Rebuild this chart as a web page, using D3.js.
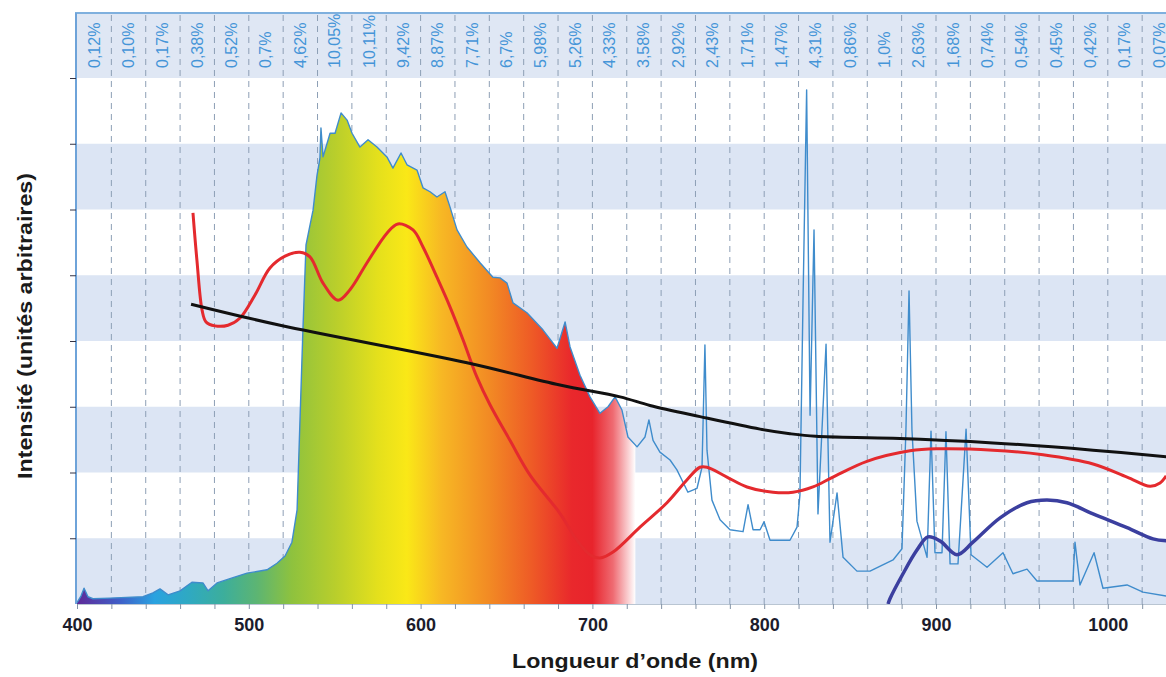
<!DOCTYPE html>
<html>
<head>
<meta charset="utf-8">
<script src="https://cdn.jsdelivr.net/npm/d3@7"></script>
<style>
  html, body { margin: 0; padding: 0; background: #fff; }
  svg { display: block; font-family: Arial, "Liberation Sans", sans-serif; }
</style>
</head>
<body>
<svg id="chart" width="1166" height="677"></svg>
<script>
// ---------- DATA ----------
const binLabels = ["0,12%","0,10%","0,17%","0,38%","0,52%","0,7%","4,62%","10,05%","10,11%","9,42%","8,87%","7,71%","6,7%","5,98%","5,26%","4,33%","3,58%","2,92%","2,43%","1,71%","1,47%","4,31%","0,86%","1,0%","2,63%","1,68%","0,74%","0,54%","0,45%","0,42%","0,17%","0,07%"];
const binStarts = [400,420,440,460,480,500,520,540,560,580,600,620,640,660,680,700,720,740,760,780,800,820,840,860,880,900,920,940,960,980,1000,1020];
const xTickLabels = [400, 500, 600, 700, 800, 900, 1000];

// measured lamp spectrum (wavelength nm, intensity a.u.)
const spectrumWl = [400,402.3,404.1,406.4,409.3,419.2,438.4,444.2,448.3,453.0,460.0,466.9,473.3,476.3,481.5,490.8,499.0,510.6,516.4,521.1,525.1,528.1,529.8,531.5,533.3,535.6,537.4,539.7,541.4,542.0,543.2,547.3,550.2,553.7,557.2,560.1,564.7,569.4,574.6,580.4,583.9,588.6,592.1,597.9,601.4,605.5,609.5,614.2,617.1,621.2,627.0,634.6,642.1,646.2,650.3,653.8,661.9,671.2,679.4,684.1,687.0,692.8,698.6,704.4,709.1,713.2,717.2,720.7,726.0,730.6,732.9,735.3,739.3,745.2,749.2,755.6,760.9,763.8,765.5,766.7,769.6,774.3,780.1,787.7,790.6,793.5,797.6,799.9,803.4,815.0,819.1,820.8,822.6,824.7,826.7,829.0,831.3,836.0,838.3,842.4,845.9,854.0,861.6,875.0,880.2,882.5,884.3,886.0,888.9,894.8,897.1,899.4,903.5,905.8,908.2,912.8,917.5,920.4,929.7,939.0,944.8,953.0,958.8,979.7,980.9,983.8,992.0,997.2,1011.2,1020.5,1034];
const spectrumI  = [0.02,0.12,0.24,0.11,0.08,0.09,0.11,0.17,0.23,0.14,0.20,0.33,0.32,0.20,0.32,0.40,0.47,0.52,0.62,0.73,0.94,1.43,2.80,4.17,5.46,5.76,5.99,6.52,6.78,7.24,6.80,7.16,7.16,7.47,7.36,7.16,6.95,7.06,6.95,6.80,6.63,6.86,6.68,6.60,6.33,6.27,6.19,6.27,6.04,5.69,5.43,5.19,4.97,4.96,4.88,4.58,4.43,4.17,3.89,4.29,3.91,3.48,3.15,2.90,3.00,3.15,2.95,2.54,2.39,2.54,2.80,2.49,2.31,2.19,2.04,1.70,1.76,2.08,3.94,2.34,1.58,1.28,1.13,1.10,1.51,1.13,1.13,1.25,0.97,0.97,1.17,1.66,4.62,7.82,2.87,5.69,1.37,3.95,0.94,1.69,0.71,0.50,0.50,0.67,0.84,2.65,4.76,2.65,1.26,0.71,2.63,0.78,0.78,2.62,0.61,0.61,2.66,0.75,0.56,0.78,0.46,0.53,0.35,0.35,0.94,0.29,0.78,0.24,0.29,0.18,0.12];

// red reference curve
const redWl = [467.5,469.8,472.8,475.1,480.3,487.9,494.9,503.6,512.3,521.1,529.8,535.6,543.2,551.9,558.9,568.8,580.4,586.8,595.6,601.4,609.5,617.1,624.7,632.8,640.4,652.0,663.7,681.1,691.0,698.6,704.4,712.0,727.7,743.4,755.1,762.6,766.7,778.3,790.0,805.1,816.8,828.4,840.0,859.8,884.9,900.6,933.2,962.3,991.4,1011.2,1024.6,1030.4,1034];
const redI  = [5.95,5.23,4.47,4.29,4.23,4.24,4.35,4.70,5.11,5.29,5.35,5.28,4.88,4.62,4.78,5.19,5.64,5.78,5.69,5.43,4.97,4.52,4.02,3.45,3.03,2.49,1.96,1.38,0.97,0.75,0.70,0.79,1.17,1.54,1.89,2.08,2.08,1.93,1.78,1.70,1.70,1.78,1.93,2.17,2.33,2.36,2.34,2.27,2.13,1.93,1.79,1.84,1.95];

// black reference curve
const blackWl = [466.4,518.2,627.0,681.1,716.1,733.5,762.6,797.6,815.0,830.0,875.0,933.2,991.4,1034];
const blackI  = [4.56,4.24,3.67,3.33,3.15,3.02,2.85,2.66,2.59,2.55,2.52,2.45,2.34,2.24];

// navy reference curve
const navyWl = [872.1,873.2,880.8,888.9,895.3,902.3,912.2,921.5,937.3,953.0,964.6,976.2,991.4,1011.2,1026.3,1034];
const navyI  = [0.00,0.08,0.46,0.82,1.02,0.96,0.75,0.94,1.31,1.54,1.58,1.54,1.37,1.16,0.99,0.96];

// ---------- LAYOUT ----------
const svg = d3.select("#chart");
const W = 1166, H = 677;
const x = d3.scaleLinear().domain([400, 1040]).range([77, 77 + 640 * 1.718]);
const y = d3.scaleLinear().domain([0, 8]).range([604, 78]);
const headerTop = 13;
const bandColor = "#dce5f4";

const zip = (a, b) => a.map((v, i) => [v, b[i]]);

// header band
svg.append("rect").attr("x", 76).attr("y", headerTop).attr("width", W - 76).attr("height", y(8) - headerTop)
  .attr("fill", "#dfe7f4");

// alternating bands
[0, 2, 4, 6].forEach(k => {
  svg.append("rect").attr("x", x(400)).attr("y", y(k + 1)).attr("width", W - x(400)).attr("height", y(k) - y(k + 1))
    .attr("fill", bandColor);
});

// dashed grid lines at bin edges
svg.append("g").selectAll("line").data(binStarts.slice(1).concat([1040])).join("line")
  .attr("x1", d => x(d)).attr("x2", d => x(d))
  .attr("y1", headerTop + 2).attr("y2", y(0))
  .attr("stroke", "#8d9fb5").attr("stroke-width", 1).attr("stroke-dasharray", "6,5");

// spectral gradient fill
const defs = svg.append("defs");
const grad = defs.append("linearGradient").attr("id", "spec").attr("gradientUnits", "userSpaceOnUse")
  .attr("x1", x(400)).attr("x2", x(725)).attr("y1", 0).attr("y2", 0);
const stops = [[400,"#5e2a98"],[425,"#3f5fc8"],[445,"#2aa2e0"],[465,"#2fa9c2"],[485,"#3cae9c"],[505,"#5db572"],[525,"#8ec23e"],[550,"#b8ce2c"],[575,"#e4e01c"],[592,"#fae817"],[612,"#f7b824"],[640,"#f28a24"],[665,"#ee5a26"],[688,"#e9282c"],[700,"#e8242c"],[712,"#ef6b72"],[725,"#ffffff"]];
stops.forEach(([wl, c]) => grad.append("stop").attr("offset", (wl - 400) / 325).attr("stop-color", c));
defs.append("clipPath").attr("id", "clipFill").append("rect")
  .attr("x", x(400)).attr("y", 0).attr("width", x(725) - x(400)).attr("height", H);

const specData = zip(spectrumWl, spectrumI);
const area = d3.area().x(d => x(d[0])).y0(y(0)).y1(d => y(d[1]));
svg.append("path").datum(specData).attr("d", area).attr("fill", "url(#spec)").attr("clip-path", "url(#clipFill)");

// spectrum line
const line = d3.line().x(d => x(d[0])).y(d => y(d[1]));
svg.append("path").datum(specData).attr("d", line).attr("fill", "none")
  .attr("stroke", "#3f8ccc").attr("stroke-width", 1.4).attr("stroke-linejoin", "round");

// smooth reference curves
const smooth = d3.line().x(d => x(d[0])).y(d => y(d[1])).curve(d3.curveCatmullRom.alpha(0.5));
svg.append("path").datum(zip(redWl, redI)).attr("d", smooth).attr("fill", "none")
  .attr("stroke", "#e42a2e").attr("stroke-width", 3);
svg.append("path").datum(zip(blackWl, blackI)).attr("d", smooth).attr("fill", "none")
  .attr("stroke", "#111").attr("stroke-width", 3);
svg.append("path").datum(zip(navyWl, navyI)).attr("d", smooth).attr("fill", "none")
  .attr("stroke", "#3b3f9f").attr("stroke-width", 3.5);

// header top line and left axis
svg.append("line").attr("x1", 75).attr("x2", W).attr("y1", headerTop).attr("y2", headerTop)
  .attr("stroke", "#7fb0de").attr("stroke-width", 2);
svg.append("line").attr("x1", 76).attr("x2", 76).attr("y1", headerTop).attr("y2", y(0))
  .attr("stroke", "#6ea3d9").attr("stroke-width", 2);

// y axis ticks (no labels)
const yAxis = d3.axisLeft(y).tickValues([1,2,3,4,5,6,7,8]).tickSize(6).tickFormat("");
const gy = svg.append("g").attr("transform", "translate(76,0)").call(yAxis);
gy.select(".domain").remove();
gy.selectAll(".tick line").attr("stroke", "#334");

// x axis
const xAxis = d3.axisBottom(x).tickValues(d3.range(400, 1041, 20)).tickSize(5)
  .tickFormat(d => xTickLabels.includes(d) ? d : "");
const gx = svg.append("g").attr("transform", `translate(0,${y(0)})`).call(xAxis);
gx.select(".domain").attr("stroke", "#b9c5d2");
gx.selectAll(".tick line").attr("stroke", "#8393a6");
gx.selectAll(".tick text").attr("font-size", 18).attr("font-weight", "bold")
  .attr("fill", "#1c1c2c").attr("font-family", "Arial, 'Liberation Sans', sans-serif").attr("dy", "1.05em");

// header labels
svg.append("g").selectAll("text").data(binLabels).join("text")
  .attr("transform", (d, i) => `translate(${x(binStarts[i] + 10) + 5.5},68) rotate(-90)`)
  .attr("text-anchor", "start")
  .attr("font-size", 16).attr("fill", "#4595d8")
  .text(d => d);

// axis titles
svg.append("text").attr("x", 635).attr("y", 668).attr("text-anchor", "middle")
  .attr("font-size", 21).attr("font-weight", "bold").attr("fill", "#1a1a1a")
  .attr("textLength", 246).attr("lengthAdjust", "spacingAndGlyphs")
  .text("Longueur d’onde (nm)");
svg.append("text").attr("transform", "translate(32,326) rotate(-90)").attr("text-anchor", "middle")
  .attr("font-size", 21).attr("font-weight", "bold").attr("fill", "#1a1a1a")
  .attr("textLength", 306).attr("lengthAdjust", "spacingAndGlyphs")
  .text("Intensité (unités arbitraires)");
</script>
</body>
</html>
